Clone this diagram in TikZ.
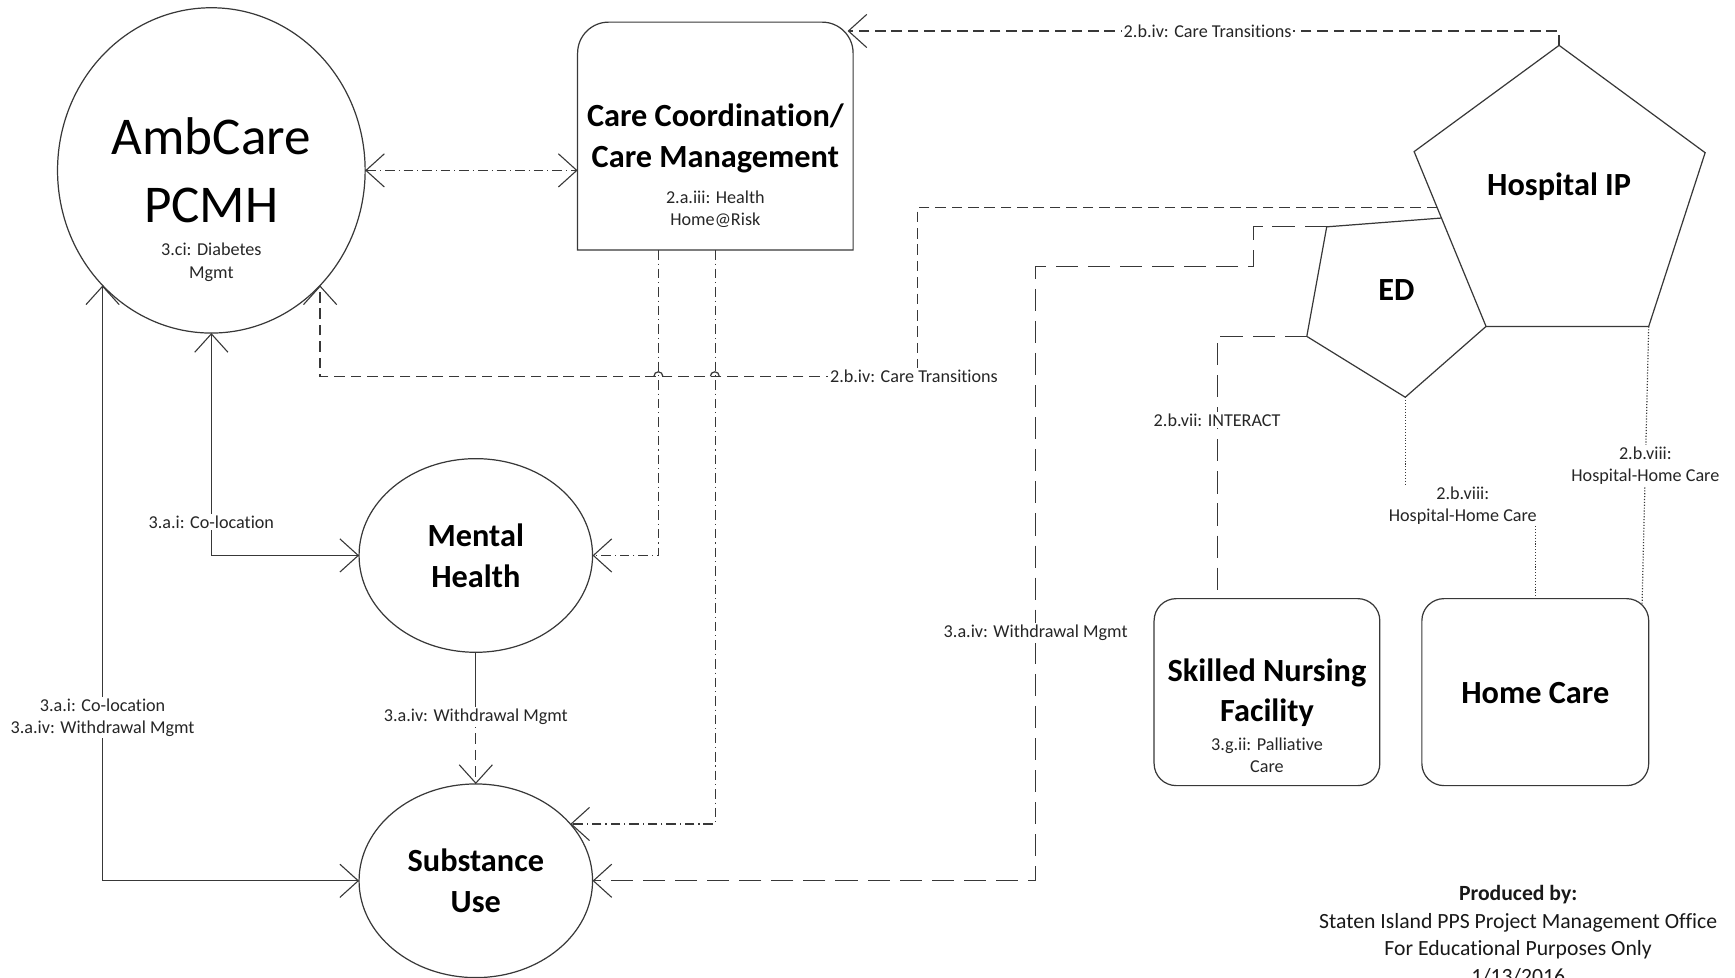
\documentclass[tikz,border=0pt]{standalone}
\usepackage{fontspec}
\setmainfont{Carlito}[Ligatures=NoCommon]
\usetikzlibrary{arrows.meta,calc,shapes.geometric}
\begin{document}
\begin{tikzpicture}[x=0.5pt,y=-0.5pt,
  ln/.style={draw=black!78, line width=0.55pt},
  shp/.style={draw=black!78, line width=0.55pt, outer sep=0pt, inner sep=0pt},
  barb/.tip={Straight Barb[length=8.3pt,width=15pt,line width=0.5pt]},
  tip/.style={-barb},
  tips/.style={barb-barb},
  dsh/.style={dash pattern=on 4.8pt off 2.6pt},
  dshdot/.style={dash pattern=on 4.3pt off 1.8pt on 0.5pt off 1.8pt},
  lng/.style={dash pattern=on 10pt off 4.5pt},
  dots/.style={dash pattern=on 0.5pt off 0.8pt},
  lbl/.style={font=\fontsize{8.2}{10}\selectfont, fill=white, inner sep=0.8pt, align=center, text=black!85},
  sub/.style={font=\fontsize{8.2}{10}\selectfont, align=center, text=black!85},
  ttl/.style={font=\bfseries\fontsize{14.6}{18.5}\selectfont, align=center},
  big/.style={font=\fontsize{24}{31}\selectfont, align=center}
]
\useasboundingbox (0,0) rectangle (1568,883);

% ---------- shapes ----------
\node[shp, ellipse, minimum width=139pt, minimum height=147pt] (amb) at (191,154) {};
\node[shp, ellipse, minimum width=105.5pt, minimum height=87.5pt] (mh) at (430,502) {};
\node[shp, ellipse, minimum width=105.5pt, minimum height=87.5pt] (su) at (430,796) {};
\node[outer sep=0pt, inner sep=0pt, minimum width=124.5pt, minimum height=103pt] (cc) at (646.5,123) {};
\draw[ln] (cc.south west) -- ($(cc.north west)+(0,28)$)
   arc[start angle=180, end angle=90, radius=14pt]
   -- ($(cc.north east)+(-28,0)$)
   arc[start angle=90, end angle=0, radius=14pt]
   -- (cc.south east) -- cycle;
\node[shp, rounded corners=10pt, minimum width=102pt, minimum height=84.5pt] (snf) at (1145,625.5) {};
\node[shp, rounded corners=10pt, minimum width=102.5pt, minimum height=84.5pt] (hc) at (1387.5,625.5) {};

% Hospital IP pentagon
\coordinate (hT)  at (1409,41);
\coordinate (hUL) at (1278,137);
\coordinate (hUR) at (1541,138);
\coordinate (hLL) at (1343,295);
\coordinate (hLR) at (1490,295);
\draw[ln] (hT) -- (hUR) -- (hLR) -- (hLL) -- (hUL) -- cycle;
% ED pentagon
\coordinate (eTR) at ($(hUL)!0.38!(hLL)$);
\coordinate (eTL) at (1199,205);
\coordinate (eL)  at (1181,304);
\coordinate (eB)  at (1270,359);
\draw[ln] (eTR) -- (eTL) -- (eL) -- (eB) -- (hLL);

% ---------- shape texts ----------
\node[big] at (191,154) {AmbCare\\PCMH};
\node[sub] at (191,237) {3.ci: Diabetes\\Mgmt};
\node[ttl] at (646.5,125) {Care Coordination/\\Care Management};
\node[sub] at (646.5,189) {2.a.iii: Health\\Home@Risk};
\node[ttl] at (430,502) {Mental\\Health};
\node[ttl] at (430,796) {Substance\\Use};
\node[ttl] at (1409,169) {Hospital IP};
\node[ttl] at (1262,262) {ED};
\node[ttl] at (1145,626) {Skilled Nursing\\Facility};
\node[sub] at (1145,682.5) {3.g.ii: Palliative\\Care};
\node[ttl] at (1387.5,626) {Home Care};

% ---------- connectors ----------
\coordinate (ccar) at ($(cc.north east)+(-5,8)$);
\coordinate (hL) at ($(hUL)!0.32!(hLL)$);
\coordinate (c1) at (829,340);
\coordinate (w1) at (1133,241);
\coordinate (w2) at (936,796);
\coordinate (m1) at (430,648);
\coordinate (snfin) at ($(snf.north)+(-45,0)$);
\coordinate (w3) at ($(hc.north)+(0,-84)$);
\coordinate (hcin) at ($(hc.north east)+(-6,5)$);

\draw[ln,dshdot,tips] (amb.east) -- (amb.east -| cc.west);

\draw[ln,dsh,tip] (hT) |- node[lbl,pos=0.747]{2.b.iv: Care Transitions} (ccar);

\draw[ln,dsh,tip] (hL) -| (c1) -| (amb.south east);
\draw[ln] (591,340) arc[start angle=180, end angle=0, radius=2pt];
\draw[ln] (642,340) arc[start angle=180, end angle=0, radius=2pt];
\node[lbl] at (826,340) {2.b.iv: Care Transitions};

\draw[ln,dshdot,tip] ($(cc.south)+(-51.5,0)$) |- (mh.east);
\draw[ln,dshdot,tip] (cc.south) |- (su.31);

\draw[ln,tips] (amb.south) |- node[lbl,pos=0.425]{3.a.i: Co-location} (mh.west);
\draw[ln,tips] (amb.south west) |- node[lbl,pos=0.363]{3.a.i: Co-location\\3.a.iv: Withdrawal Mgmt} (su.west);

\draw[ln] (mh.south) -- (m1);
\draw[ln,dsh,tip] (m1) -- (su.north);
\node[lbl] at (m1) {3.a.iv: Withdrawal Mgmt};

\draw[ln,lng,tip] (eTL) -| (w1) -| (w2) -- (su.east);
\node[lbl] at (936,572) {3.a.iv: Withdrawal Mgmt};

\draw[ln,lng] (eL) -| node[lbl,pos=0.66]{2.b.vii: INTERACT} (snfin);

\draw[ln,dots] (eB) |- (w3) -- (hc.north);
\node[lbl] at (1322,457) {2.b.viii:\\Hospital-Home Care};

\draw[ln,dots] (hLR) -- node[lbl]{2.b.viii:\\Hospital-Home Care} (hcin);

% ---------- credit ----------
\node[font=\fontsize{9.8}{12.5}\selectfont, align=center, text=black!90] (prod) at (1372,845)
  {\textbf{Produced by:}\\Staten Island PPS Project Management Office\\For Educational Purposes Only\\1/13/2016};
\end{tikzpicture}
\end{document}
